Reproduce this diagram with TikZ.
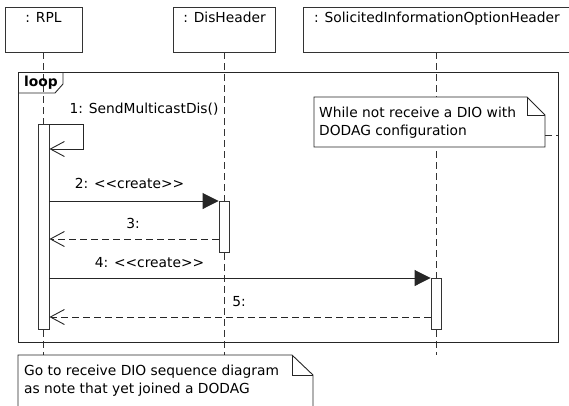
\documentclass[tikz,border=0pt]{standalone}
\usepackage{fontspec}
\setmainfont{DejaVu Sans}
\usetikzlibrary{arrows.meta}
\tikzset{
  head box/.style={draw=black!80,line width=0.9pt,fill=white,minimum height=45pt,inner sep=0pt},
  head title/.style={anchor=base,inner sep=0pt},
  life line/.style={line width=0.9pt,black!80,dash pattern=on 7pt off 4pt},
  activation bar/.style={draw=black!80,line width=0.9pt,fill=white,minimum width=10pt,inner sep=0pt,anchor=north},
  frame line/.style={line width=0.9pt,black!85},
  call line/.style={line width=0.9pt,black!85,-{Triangle[length=16pt,width=16pt]}},
  reply line/.style={line width=0.9pt,black!85,dash pattern=on 7pt off 4pt,-{Straight Barb[length=14pt,width=15pt]}},
  self line/.style={line width=0.9pt,black!85,-{Straight Barb[length=14pt,width=15pt]}},
  note line/.style={draw=black!85,line width=0.9pt,fill=white},
  note text/.style={anchor=base west,inner sep=0pt},
  msg label/.style={anchor=base,inner sep=0pt},
}
\newcommand{\umlStereo}[1]{<\kern0pt<#1>\kern0pt>}

\begin{document}
\begin{tikzpicture}[x=1pt,y=-1pt,font=\fontsize{13.8}{18}\selectfont]
\useasboundingbox (0,0) rectangle (569,405);
% lifeline heads
\node[head box,minimum width=77pt] (rpl) at (43.5,29.5) {};
\node[head box,minimum width=102pt] (dish) at (224,29.5) {};
\node[head box,minimum width=268pt] (sioh) at (437,29.5) {};
\node[head title] (rpltitle) at (43.5,22) {: RPL};
\node[head title] (dishtitle) at (224.5,22) {: DisHeader};
\node[head title] (siohtitle) at (437,22) {: SolicitedInformationOptionHeader};
% activation bars
\node[activation bar,minimum width=11pt,minimum height=205pt] (rplbar) at (43.5,124) {};
\node[activation bar,minimum height=51pt] (disbar) at (224,201) {};
\node[activation bar,minimum height=51pt] (siohbar) at (436,278) {};
\coordinate (rplend) at (43.5,355);
\coordinate (disend) at (224,355);
\coordinate (siohend) at (436,355);
% life lines
\draw[life line] (rpl.south) -- (rplbar.north);
\draw[life line] (rplbar.south) -- (rplend);
\draw[life line] (disbar.north |- dish.south) -- (disbar.north);
\draw[life line] (disbar.south) -- (disend);
\draw[life line] (siohbar.north |- sioh.south) -- (siohbar.north);
\draw[life line] (siohbar.south) -- (siohend);
% loop fragment
\draw[frame line] (18,72) rectangle (558,342);
\draw[frame line] (18,93) -- (55,93) -- (63,84) -- (63,72);
\node[msg label,font=\fontsize{13.8}{18}\selectfont\bfseries] (looptag) at (41,86) {loop};
% guard note
\draw[note line] (314,97) -- (527,97) -- (545,115) -- (545,147) -- (314,147) -- cycle;
\draw[note line,fill=none] (527,97) |- (545,115);
\node[note text] (guard1) at (319,117) {While not receive a DIO with};
\node[note text] (guard2) at (319,135) {DODAG configuration};
\coordinate (guardlink) at (545,135);
\coordinate (framelink) at (558,135);
\draw[life line] (guardlink) -- (framelink);
% bars on top
\node[activation bar,minimum width=11pt,minimum height=205pt] at (rplbar.north) {};
\node[activation bar,minimum height=51pt] at (disbar.north) {};
\node[activation bar,minimum height=51pt] at (siohbar.north) {};
% messages
\draw[self line] (rplbar.north east) -- ++(34,0) -- ++(0,25) -- ++(-34,0);
\node[msg label] (m1) at (144,113) {1: SendMulticastDis()};
\draw[call line] (rplbar.east |- disbar.north) -- (disbar.north west);
\node[msg label] (m2) at (129.5,188) {2: \umlStereo{create}};
\coordinate (reply3) at (0,239);
\draw[reply line] (disbar.west |- reply3) -- (rplbar.east |- reply3);
\node[msg label] (m3) at (133,228) {3:};
\draw[call line] (rplbar.east |- siohbar.north) -- (siohbar.north west);
\node[msg label] (m4) at (149.5,267) {4: \umlStereo{create}};
\coordinate (reply5) at (0,317);
\draw[reply line] (siohbar.west |- reply5) -- (rplbar.east |- reply5);
\node[msg label] (m5) at (239,306) {5:};
% closing note
\draw[note line] (18,355) -- (292,355) -- (313,375) -- (313,412) -- (18,412) -- cycle;
\draw[note line,fill=none] (292,355) |- (313,375);
\node[note text] (end1) at (24,375) {Go to receive DIO sequence diagram};
\node[note text] (end2) at (24,393) {as note that yet joined a DODAG};
\end{tikzpicture}
\end{document}
